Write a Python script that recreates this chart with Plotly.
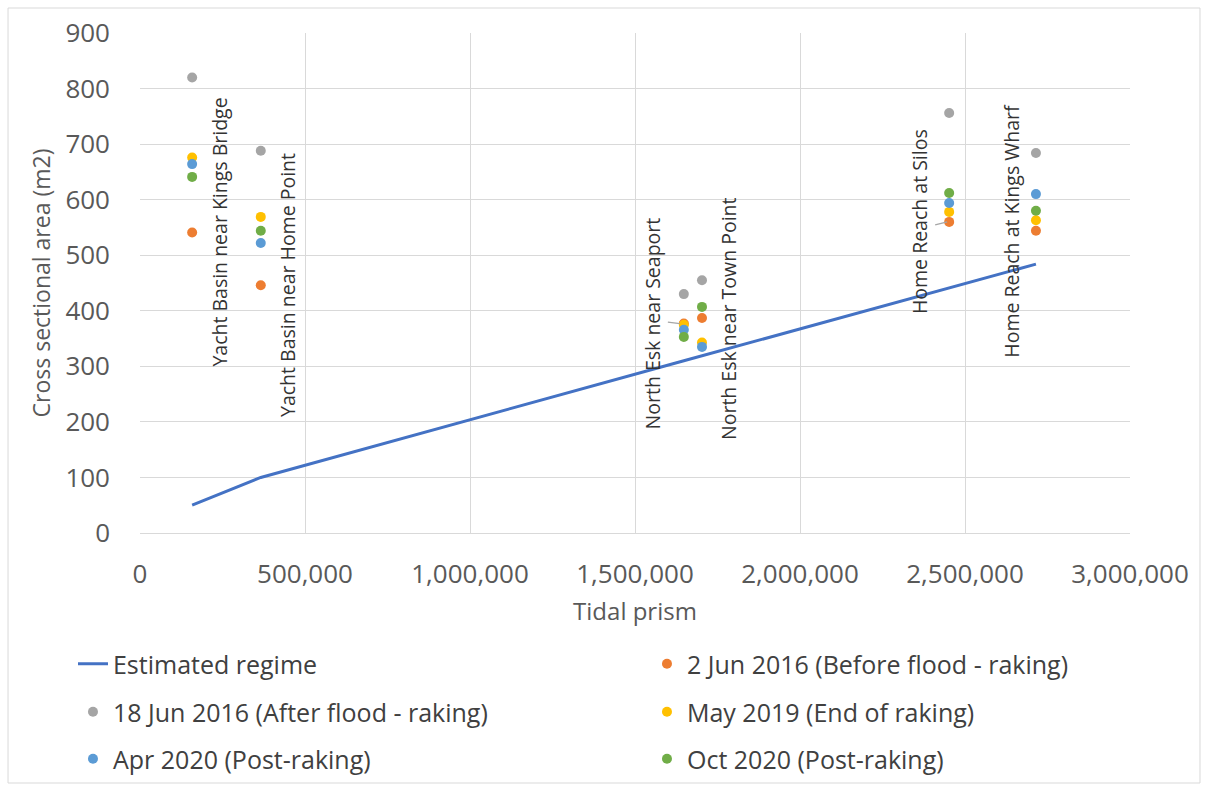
import plotly.graph_objects as go

# Tidal prism at each surveyed cross-section
sites = ["Yacht Basin near Kings Bridge", "Yacht Basin near Home Point",
         "North Esk near Seaport", "North Esk near Town Point",
         "Home Reach at Silos", "Home Reach at Kings Wharf"]
prism = [158000, 366000, 1648000, 1703000, 2452000, 2715000]

# Cross sectional areas (m2)
regime = [50, 100, 310, 319, 441, 484]
jun2_2016 = [541, 446, 377, 387, 560, 544]
jun18_2016 = [820, 688, 430, 455, 756, 684]
may_2019 = [676, 569, 375, 343, 578, 563]
apr_2020 = [664, 522, 366, 335, 594, 610]
oct_2020 = [641, 544, 353, 407, 612, 580]

x_ticks = [0, 500000, 1000000, 1500000, 2000000, 2500000, 3000000]
y_ticks = [0, 100, 200, 300, 400, 500, 600, 700, 800, 900]

FONT = "Open Sans, DejaVu Sans, sans-serif"
AXIS_GREY = "#595959"
GRID = "#D9D9D9"

fig = go.Figure()

fig.add_trace(go.Scatter(x=prism, y=regime, mode="lines", name="Estimated regime",
                         line=dict(color="#4472C4", width=3), legend="legend",
                         showlegend=True))

# each legend entry gets its own legend box: two columns, three rows
point_series = [
    ("2 Jun 2016 (Before flood - raking)", jun2_2016, "#ED7D31", "legend2"),
    ("18 Jun 2016 (After flood - raking)", jun18_2016, "#A5A5A5", "legend3"),
    ("May 2019 (End of raking)", may_2019, "#FFC000", "legend4"),
    ("Apr 2020 (Post-raking)", apr_2020, "#5B9BD5", "legend5"),
    ("Oct 2020 (Post-raking)", oct_2020, "#70AD47", "legend6"),
]
for name, vals, col, lg in point_series:
    fig.add_trace(go.Scatter(x=prism, y=vals, mode="markers", name=name,
                             marker=dict(color=col, size=10), legend=lg,
                             showlegend=True))

# Site names as rotated data labels on the 2 Jun 2016 series
label_shift = [27, 26, -31, 26, -29, -24]
for name, px, py, sh in zip(sites, prism, jun2_2016, label_shift):
    fig.add_annotation(x=px, y=py, text=name, showarrow=False, textangle=-90,
                       xshift=sh, xanchor="center", yanchor="middle",
                       font=dict(family=FONT, size=19.5, color="#333333"))

# short leader lines for the two labels pulled away from their points
for idx, (dx0, dy0, dx1, dy1) in [(2, (-16, 1.5, -4, 0)), (4, (-14, -3, -2, 0))]:
    fig.add_shape(type="line", xref="x", yref="y",
                  xsizemode="pixel", ysizemode="pixel",
                  xanchor=prism[idx], yanchor=jun2_2016[idx],
                  x0=dx0, y0=dy0, x1=dx1, y1=dy1,
                  line=dict(color="#A6A6A6", width=1.2))

# Chart area frame
fig.add_shape(type="rect", xref="paper", yref="paper",
              x0=-0.1333, x1=1.0707, y0=-0.5, y1=1.05,
              line=dict(color=GRID, width=1), fillcolor="rgba(0,0,0,0)")

legend_font = dict(family=FONT, size=25, color="#404040")
col_x = [-0.0677, 0.5121]
row_y = [-0.262, -0.358, -0.452]


def legend_box(col, row):
    return dict(x=col_x[col], y=row_y[row], xanchor="left", yanchor="middle",
                orientation="h", font=legend_font, bgcolor="rgba(0,0,0,0)",
                visible=True)


fig.update_layout(
    width=1208, height=790,
    showlegend=True,
    margin=dict(l=140, r=78, t=33, b=257, autoexpand=False),
    paper_bgcolor="white", plot_bgcolor="white",
    font=dict(family=FONT, color=AXIS_GREY),
    legend=legend_box(0, 0), legend2=legend_box(1, 0),
    legend3=legend_box(0, 1), legend4=legend_box(1, 1),
    legend5=legend_box(0, 2), legend6=legend_box(1, 2),
    xaxis=dict(range=[0, 3000000], tickvals=x_ticks, tickformat=",d",
               showgrid=True, gridcolor=GRID, gridwidth=1,
               showline=True, linecolor=GRID, linewidth=1, zeroline=False,
               ticks="", ticklabelstandoff=18, automargin=False,
               tickfont=dict(family=FONT, size=26, color=AXIS_GREY),
               title=dict(text="Tidal prism", standoff=12,
                          font=dict(family=FONT, size=24, color=AXIS_GREY))),
    yaxis=dict(range=[0, 900], tickvals=y_ticks,
               showgrid=True, gridcolor=GRID, gridwidth=1, zeroline=False,
               showline=False, ticks="", ticklabelstandoff=29, automargin=False,
               tickfont=dict(family=FONT, size=26, color=AXIS_GREY),
               title=dict(text="Cross sectional area (m2)", standoff=8,
                          font=dict(family=FONT, size=23, color=AXIS_GREY))),
)

fig.write_html("out.html")
